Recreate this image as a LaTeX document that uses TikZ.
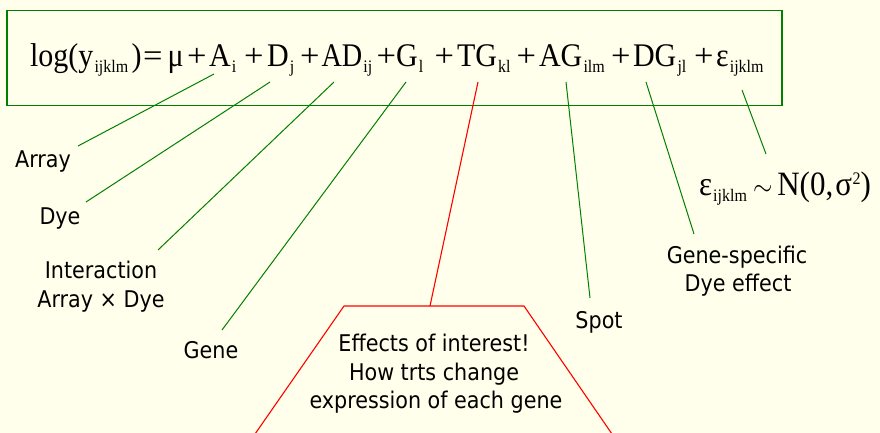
\documentclass[tikz,border=0pt]{standalone}
\usepackage{fontspec}
\usepackage{graphicx}
\setmainfont{Liberation Serif}
\newfontfamily\lblfamily{DejaVu Sans Condensed}
\definecolor{bgc}{RGB}{255,255,236}
\definecolor{lgreen}{RGB}{0,128,0}
\definecolor{lred}{RGB}{255,0,0}
\newcommand\eqf{\fontsize{30}{30}\selectfont}
\newcommand\lblf{\lblfamily\fontsize{23}{28}\selectfont}
\newcommand\vsc[1]{\scalebox{1}[1.1]{#1}}
\newcommand\opx[1]{\scalebox{1.15}[1.07]{#1}}
\newcommand\sbx[1]{\kern1.2pt\raisebox{-5.6pt}{\fontsize{16}{16}\selectfont #1}}
\newcommand\spx[1]{\kern0.5pt\raisebox{10pt}{\fontsize{16}{16}\selectfont #1}}
\tikzset{
  eqt/.style={inner sep=0pt, outer sep=0pt, anchor=base west, font=\eqf},
  lbl/.style={inner sep=0pt, outer sep=0pt, anchor=base, font=\lblf, text=black},
  gline/.style={draw=lgreen, line width=1pt},
  rline/.style={draw=lred, line width=1.1pt},
}
\begin{document}
\begin{tikzpicture}[x=1pt,y=-1pt]
\useasboundingbox (0,0) rectangle (880,433);
\fill[bgc] (0,0) rectangle (880,433);
% equation box
\draw[lgreen, line width=1.6pt] (7,10.5) rectangle (782,105.5);
% equation terms
\def\bl{66.5}
\node[eqt] (t1) at (30,\bl) {\vsc{log(y\sbx{ijklm}}};
\node[eqt] (t2) at (131.5,\bl) {\vsc{)}};
\node[eqt] (t3) at (143,\bl) {\opx{=}};
\node[eqt] (t4) at (167.5,\bl) {\vsc{μ}};
\node[eqt] (p1) at (187,\bl) {\opx{+}};
\node[eqt] (tA) at (209,\bl) {\vsc{A\sbx{i}}};
\node[eqt] (p2) at (244,\bl) {\opx{+}};
\node[eqt] (tD) at (267,\bl) {\vsc{D\sbx{j}}};
\node[eqt] (p3) at (300,\bl) {\opx{+}};
\node[eqt] (tAD) at (321.5,\bl) {\vsc{\scalebox{0.94}[1]{AD}\sbx{ij}}};
\node[eqt] (p4) at (376.5,\bl) {\opx{+}};
\node[eqt] (tG) at (396,\bl) {\vsc{G\sbx{l}}};
\node[eqt] (p5) at (434.5,\bl) {\opx{+}};
\node[eqt] (tTG) at (457,\bl) {\vsc{TG\sbx{kl}}};
\node[eqt] (p6) at (516.5,\bl) {\opx{+}};
\node[eqt] (tAG) at (539,\bl) {\vsc{AG\sbx{ilm}}};
\node[eqt] (p7) at (611,\bl) {\opx{+}};
\node[eqt] (tDG) at (633,\bl) {\vsc{DG\sbx{jl}}};
\node[eqt] (p8) at (694,\bl) {\opx{+}};
\node[eqt] (tE) at (716,\bl) {\vsc{ε\sbx{ijklm}}};
% error distribution
\node[eqt, font=\fontsize{31}{31}\selectfont] (dist) at (699,195) {\vsc{ε\sbx{ijklm}\kern6pt$\sim$\kern5pt N(0,\kern2pt σ\spx{2})}};
% labels
\node[lbl] (lArray) at (43,167) {Array};
\node[lbl] (lDye) at (60,224) {Dye};
\node[lbl] (lInt1) at (101,278) {Interaction};
\node[lbl] (lInt2) at (101,307) {Array × Dye};
\node[lbl] (lGene) at (211,358) {Gene};
\node[lbl] (lSpot) at (599,328) {Spot};
\node[lbl] (lGs1) at (737,263) {Gene-specific};
\node[lbl] (lGs2) at (738,291) {Dye effect};
\node[lbl] (lEf1) at (434,351) {Effects of interest!};
\node[lbl] (lEf2) at (434,380) {How trts change};
\node[lbl] (lEf3) at (436,408) {expression of each gene};
% connector endpoints
\coordinate (cA1) at (214,74);   \coordinate (cA2) at (78,146);
\coordinate (cD1) at (270,82);   \coordinate (cD2) at (86,202);
\coordinate (cAD1) at (334,82);  \coordinate (cAD2) at (158,250);
\coordinate (cG1) at (406,82);   \coordinate (cG2) at (222,330);
\coordinate (cTG1) at (478,82);  \coordinate (cTG2) at (430,306);
\coordinate (cAG1) at (566,82);  \coordinate (cAG2) at (590,298);
\coordinate (cDG1) at (646,82);  \coordinate (cDG2) at (694,234);
\coordinate (cE1) at (742,90);   \coordinate (cE2) at (766,154);
\draw[gline] (cA1) -- (cA2);
\draw[gline] (cD1) -- (cD2);
\draw[gline] (cAD1) -- (cAD2);
\draw[gline] (cG1) -- (cG2);
\draw[gline] (cAG1) -- (cAG2);
\draw[gline] (cDG1) -- (cDG2);
\draw[gline] (cE1) -- (cE2);
\draw[rline] (cTG1) -- (cTG2);
% trapezoid
\draw[rline] (344,306) -- (524,306) -- (612,434) -- (255,434) -- cycle;
\end{tikzpicture}
\end{document}
